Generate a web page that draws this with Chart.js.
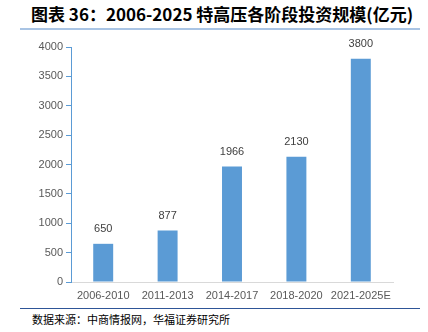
<!DOCTYPE html>
<html>
<head>
<meta charset="utf-8">
<script src="https://cdn.jsdelivr.net/npm/chart.js@4.4.0/dist/chart.umd.min.js"></script>
<style>
  body { margin: 0; background: #fff; width: 428px; height: 332px; overflow: hidden; position: relative; font-family: "Noto Sans CJK SC", sans-serif; }
  #title { position: absolute; left: 31px; top: 1px; font-size: 17px; font-weight: bold; color: #000; white-space: nowrap; }
  #topLine { position: absolute; left: 20px; top: 28px; width: 400px; height: 2px; background: #a9c4e4; }
  #bottomLine { position: absolute; left: 20px; top: 308px; width: 400px; height: 1px; background: #2e5597; }
  #source { position: absolute; left: 32px; top: 311px; font-size: 11px; color: #000; white-space: nowrap; }
  #wrap { position: absolute; left: 0; top: 36px; width: 428px; height: 270px; }
</style>
</head>
<body>
<div id="title">图表 36：2006-2025 特高压各阶段投资规模(亿元)</div>
<div id="topLine"></div>
<div id="wrap"><canvas id="myChart"></canvas></div>
<div id="bottomLine"></div>
<div id="source">数据来源：中商情报网，华福证券研究所</div>
<script>
// Data
const categories = ['2006-2010', '2011-2013', '2014-2017', '2018-2020', '2021-2025E'];
const investment = [650, 877, 1966, 2130, 3800];
const yTicks = [0, 500, 1000, 1500, 2000, 2500, 3000, 3500, 4000];

const tickFont = { size: 11, family: '"Liberation Sans", Arial, sans-serif' };

// value labels above bars
const barLabels = {
  id: 'barLabels',
  afterDatasetsDraw(chart) {
    const ctx = chart.ctx;
    ctx.save();
    ctx.font = '11px "Liberation Sans", Arial, sans-serif';
    ctx.fillStyle = '#404040';
    ctx.textAlign = 'center';
    ctx.textBaseline = 'bottom';
    chart.getDatasetMeta(0).data.forEach((bar, i) => {
      ctx.fillText(investment[i], bar.x, bar.y - 9);
    });
    ctx.restore();
  }
};

const config = {
  type: 'bar',
  data: {
    labels: categories,
    datasets: [{
      data: investment,
      backgroundColor: '#5b9bd5',
      barPercentage: 1,
      categoryPercentage: 0.31
    }]
  },
  options: {
    responsive: true,
    maintainAspectRatio: false,
    animation: false,
    layout: { padding: { top: 11, right: 35, left: 0, bottom: 0 } },
    plugins: {
      legend: { display: false },
      tooltip: { enabled: false }
    },
    scales: {
      x: {
        grid: { display: false, drawTicks: false },
        border: { color: '#d9d9d9', width: 1 },
        ticks: { color: '#595959', font: tickFont, padding: 7, maxRotation: 0, autoSkip: false },
        afterFit: (axis) => { axis.height = 24; }
      },
      y: {
        min: 0,
        max: 4000,
        afterBuildTicks: (axis) => { axis.ticks = yTicks.map(v => ({ value: v })); },
        grid: { drawOnChartArea: false, drawTicks: true, tickLength: 5, color: '#5b9bd5' },
        border: { color: '#5b9bd5', width: 1 },
        ticks: { color: '#595959', font: tickFont, padding: 3, callback: (v) => String(v) },
        afterFit: (axis) => { axis.width = 71; }
      }
    }
  },
  plugins: [barLabels]
};

var myChart = new Chart(document.getElementById('myChart'), config);
</script>
</body>
</html>
